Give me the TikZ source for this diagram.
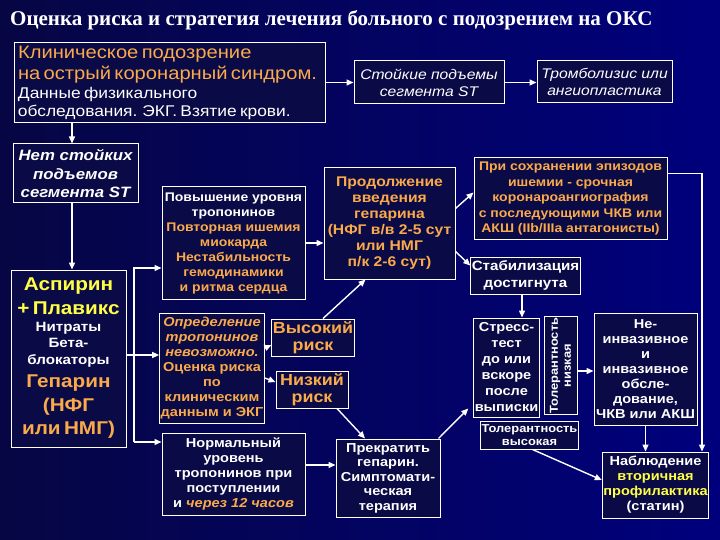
\documentclass[tikz,border=0pt]{standalone}
\usepackage{fontspec}
\setmainfont{Liberation Sans}[FakeStretch=1.12]
\newfontfamily\titlefont{Liberation Serif}
\usetikzlibrary{arrows.meta}
\definecolor{bgL}{RGB}{6,6,68}
\definecolor{bgR}{RGB}{0,0,125}
\definecolor{boxf}{RGB}{10,10,70}
\definecolor{orn}{RGB}{250,170,75}
\definecolor{yel}{RGB}{255,255,70}
\newcommand{\fsz}[2]{\fontsize{#1}{#2}\selectfont}
\begin{document}
\begin{tikzpicture}[x=1pt,y=-1pt,
  bx/.style={draw=white, line width=1pt, fill=boxf, inner sep=1pt, align=center, text=white, font=\bfseries},
  arr/.style={white, line width=1.4pt, -{Triangle[length=7pt,width=6pt]}},
  ln/.style={white, line width=1.4pt}]
\useasboundingbox (0,0) rectangle (720,540);
\shade[left color=bgL, right color=bgR] (0,0) rectangle (720,540);

\node[text=white, font=\titlefont\bfseries\fsz{21}{23}, anchor=west, inner sep=0pt] (T) at (10,20) {Оценка риска и стратегия лечения больного с подозрением на ОКС};

\node[bx, minimum width=311pt, minimum height=80pt, text width=303pt, inner xsep=4pt, align=left, font=\mdseries] (A) at (169.5,83)
 {\fsz{18}{21}\color{orn}Клиническое подозрение\par на острый коронарный синдром.\par
  \fsz{15.5}{18.5}\color{white}Данные физикального\par обследования. ЭКГ. Взятие крови.\par};
\node[bx, minimum width=150pt, minimum height=43pt, font=\mdseries\itshape\fsz{14}{17}] (ST) at (429,82.5) {Стойкие подъемы\\сегмента ST};
\node[bx, minimum width=135pt, minimum height=42pt, font=\mdseries\itshape\fsz{14}{17}] (TR) at (604.5,82) {Тромболизис или\\ангиопластика};

\node[bx, minimum width=125pt, minimum height=59pt, font=\bfseries\itshape\fsz{15}{18.5}] (NST) at (75.5,173.5) {Нет стойких\\подъемов\\сегмента ST};

\node[bx, minimum width=115pt, minimum height=177pt, text width=113pt] (ASP) at (68.5,358.5)
 {\fsz{18.5}{24}\color{yel}Аспирин\par + Плавикс\par
  \fsz{13.5}{16.5}\color{white}Нитраты\par Бета-\par блокаторы\par
  \fsz{18.5}{23.5}\color{orn}Гепарин\par (НФГ\par или НМГ)\par};

\node[bx, minimum width=143pt, minimum height=112pt, font=\bfseries\fsz{12.5}{15}] (POV) at (233.5,243)
 {Повышение уровня\\тропонинов\\\textcolor{orn}{Повторная ишемия}\\\textcolor{orn}{миокарда}\\\textcolor{orn}{Нестабильность}\\\textcolor{orn}{гемодинамики}\\\textcolor{orn}{и ритма сердца}};

\node[bx, minimum width=131pt, minimum height=111pt, text=orn, font=\bfseries\fsz{14}{16}] (PROD) at (389.5,223.5)
 {Продолжение\\введения\\гепарина\\(НФГ в/в 2-5 сут\\или НМГ\\п/к 2-6 сут)};

\node[bx, minimum width=193pt, minimum height=81pt, text=orn, font=\bfseries\fsz{12.5}{15.5}] (PRI) at (570.5,198.5)
 {При сохранении эпизодов\\ишемии - срочная\\коронароангиография\\с последующими ЧКВ или\\АКШ (IIb/IIIa антагонисты)};

\node[bx, minimum width=103pt, minimum height=37pt, font=\bfseries\fsz{13.5}{17}] (STAB) at (525.5,275.5) {Стабилизация\\достигнута};

\node[bx, minimum width=100pt, minimum height=110pt, text=orn, font=\bfseries\fsz{13}{15}] (OPR) at (212,368)
 {{\itshape Определение}\\{\itshape тропонинов}\\{\itshape невозможно.}\\Оценка риска\\по\\клиническим\\данным и ЭКГ};

\node[bx, minimum width=76pt, minimum height=37pt, text=orn, font=\bfseries\fsz{16}{16.5}] (VYS) at (313,337.5) {Высокий\\риск};
\node[bx, minimum width=72pt, minimum height=37pt, text=orn, font=\bfseries\fsz{16}{16.5}] (NIZ) at (312,389.5) {Низкий\\риск};

\node[bx, minimum width=143pt, minimum height=82pt, font=\bfseries\fsz{13}{15}] (NORM) at (233.5,474)
 {Нормальный\\уровень\\тропонинов при\\поступлении\\и \textcolor{orn}{\itshape через 12 часов}};

\node[bx, minimum width=104pt, minimum height=78pt, font=\bfseries\fsz{13}{14.5}] (PREK) at (388,478)
 {Прекратить\\гепарин.\\Симптомати-\\ческая\\терапия};

\node[bx, minimum width=65pt, minimum height=99pt, font=\bfseries\fsz{13}{16}] (STR) at (506.5,367.5)
 {Стресс-\\тест\\до или\\вскоре\\после\\выписки};

\node[bx, rotate=90, minimum width=95pt, minimum height=33pt, font=\bfseries\fsz{11.5}{13}] (TLN) at (560.5,365.5)
 {Толерантность\\низкая};

\node[bx, minimum width=95pt, minimum height=28pt, font=\bfseries\fsz{11.5}{13}] (TLV) at (529.5,435)
 {Толерантность\\высокая};

\node[bx, minimum width=103pt, minimum height=112pt, font=\bfseries\fsz{13}{15}] (NEIN) at (645.5,369)
 {Не-\\инвазивное\\и\\инвазивное\\обсле-\\дование,\\ЧКВ или АКШ};

\node[bx, minimum width=105pt, minimum height=66pt, font=\bfseries\fsz{13}{15}] (NABL) at (655.5,485)
 {Наблюдение\\\textcolor{yel}{вторичная}\\\textcolor{yel}{профилактика}\\(статин)};

% helper coordinates
\coordinate (c1) at (72,0);
\coordinate (vx) at (134,0);
\coordinate (yP) at (0,268);
\coordinate (yO) at (0,355);
\coordinate (yN) at (0,442);
\coordinate (rx) at (702,0);
\coordinate (sx) at (522,0);

% connectors
\draw[arr] (A.east |- ST.west) -- (ST.west);
\draw[arr] (ST.east) -- (ST.east -| TR.west);
\draw[arr] (A.south -| c1) -- (NST.north -| c1);
\draw[arr] (NST.south -| c1) -- (ASP.north -| c1);
\draw[arr] (vx |- yN) |- (POV.west |- yP);
\draw[arr] (vx |- yN) -- (NORM.west |- yN);
\draw[arr] (ASP.east |- yO) -- (OPR.west |- yO);
\draw[arr] (POV.east) -- (POV.east -| PROD.west);
\draw[arr] ([yshift=15pt]PROD.east) -- ([yshift=6pt]PRI.west);
\draw[arr] ([yshift=-28pt]PROD.east) -- ([yshift=10pt]STAB.west);
\draw[arr] ([yshift=25pt]PRI.east) -| (rx |- NABL.north);
\draw[arr] (STAB.south -| sx) -- (STR.north -| sx);
\draw[arr] ([yshift=-5.5pt]TLN.south) -- ([yshift=-5.5pt]TLN.south -| NEIN.west);
\draw[arr] (NEIN.south) -- (NEIN.south |- NABL.north);
\draw[arr] ([xshift=3pt]TLV.south) -- ([yshift=5pt]NABL.west);
\draw[arr] ([xshift=-2pt]PREK.north east) -- ([xshift=-5pt,yshift=9pt]STR.south west);
\draw[arr] ([yshift=9pt]NORM.east) -- ([yshift=9pt]NORM.east -| PREK.west);
\draw[arr] ([yshift=20pt]OPR.east) -- ([yshift=-7.5pt]VYS.west);
\draw[arr] ([yshift=-10pt]OPR.east) -- ([yshift=7.5pt]NIZ.west);
\draw[arr] ([xshift=10pt]VYS.north) -- ([xshift=-24pt]PROD.south);
\draw[arr] ([xshift=25pt]NIZ.south) -- ([xshift=-23pt]PREK.north);
\end{tikzpicture}
\end{document}
